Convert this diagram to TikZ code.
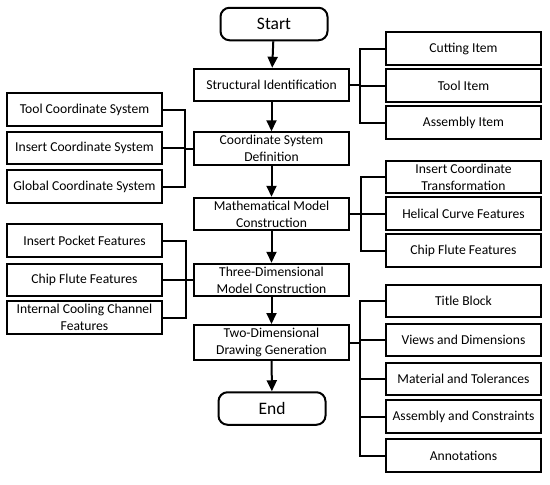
\documentclass[tikz,border=0pt]{standalone}
\usepackage{fontspec}
\setmainfont{Carlito}
\usetikzlibrary{arrows.meta,calc}
\begin{document}
\begin{tikzpicture}[x=1pt,y=-1pt,
  box/.style={draw, line width=2pt, minimum width=155pt, minimum height=32.5pt, inner sep=1pt, align=center, font=\fontsize{13.6}{17}\selectfont},
  term/.style={box, rounded corners=9pt, minimum width=107pt, font=\fontsize{17.5}{20}\selectfont},
  arr/.style={line width=2pt, -{Triangle[length=11pt,width=10pt]}},
  ln/.style={line width=2pt}]
\useasboundingbox (0,0) rectangle (550,485);
% main column
\node[term] (start) at (274,24) {Start};
\node[box] (s1) at (271.5,85) {Structural Identification};
\node[box] (s2) at (271.5,148.5) {Coordinate System\\Definition};
\node[box] (s3) at (271.5,214) {Mathematical Model\\Construction};
\node[box] (s4) at (271.5,280) {Three-Dimensional\\Model Construction};
\node[box, minimum height=35pt] (s5) at (271.5,342.5) {Two-Dimensional\\Drawing Generation};
\node[term] (end) at (272,408.5) {End};
\draw[arr] (start) -- (s1);
\draw[arr] (s1) -- (s2);
\draw[arr] (s2) -- (s3);
\draw[arr] (s3) -- (s4);
\draw[arr] (s4) -- (s5);
\draw[arr] (s5) -- (end);
% right group 1
\node[box] (r1) at (463.5,48.5) {Cutting Item};
\node[box] (r2) at (463.5,85.5) {Tool Item};
\node[box] (r3) at (463.5,122.5) {Assembly Item};
\coordinate (b1) at (360,85);
\foreach \n in {r1,r2,r3} \draw[ln] (s1.east) -- (b1) |- (\n.west);
% left group 1
\node[box] (l1) at (84.5,109.5) {Tool Coordinate System};
\node[box] (l2) at (84.5,148) {Insert Coordinate System};
\node[box] (l3) at (84.5,186.5) {Global Coordinate System};
\coordinate (b2) at (185,148.5);
\foreach \n in {l1,l2,l3} \draw[ln] (s2.west) -- (b2) |- (\n.east);
% right group 2
\node[box] (r4) at (463.5,177) {Insert Coordinate\\Transformation};
\node[box] (r5) at (463.5,213.5) {Helical Curve Features};
\node[box] (r6) at (463.5,250.5) {Chip Flute Features};
\coordinate (b3) at (361,214);
\foreach \n in {r4,r5,r6} \draw[ln] (s3.east) -- (b3) |- (\n.west);
% left group 2
\node[box] (l4) at (84.5,240.5) {Insert Pocket Features};
\node[box] (l5) at (84.5,280) {Chip Flute Features};
\node[box] (l6) at (84.5,317.5) {Internal Cooling Channel\\Features};
\coordinate (b4) at (186,280);
\foreach \n in {l4,l5,l6} \draw[ln] (s4.west) -- (b4) |- (\n.east);
% right group 3
\node[box] (r7) at (463.5,301) {Title Block};
\node[box] (r8) at (463.5,340) {Views and Dimensions};
\node[box] (r9) at (463.5,379) {Material and Tolerances};
\node[box] (r10) at (463.5,416.5) {Assembly and Constraints};
\node[box] (r11) at (463.5,455.5) {Annotations};
\coordinate (b5) at (360,342.5);
\foreach \n in {r7,r8,r9,r10,r11} \draw[ln] (s5.east) -- (b5) |- (\n.west);
\end{tikzpicture}
\end{document}
